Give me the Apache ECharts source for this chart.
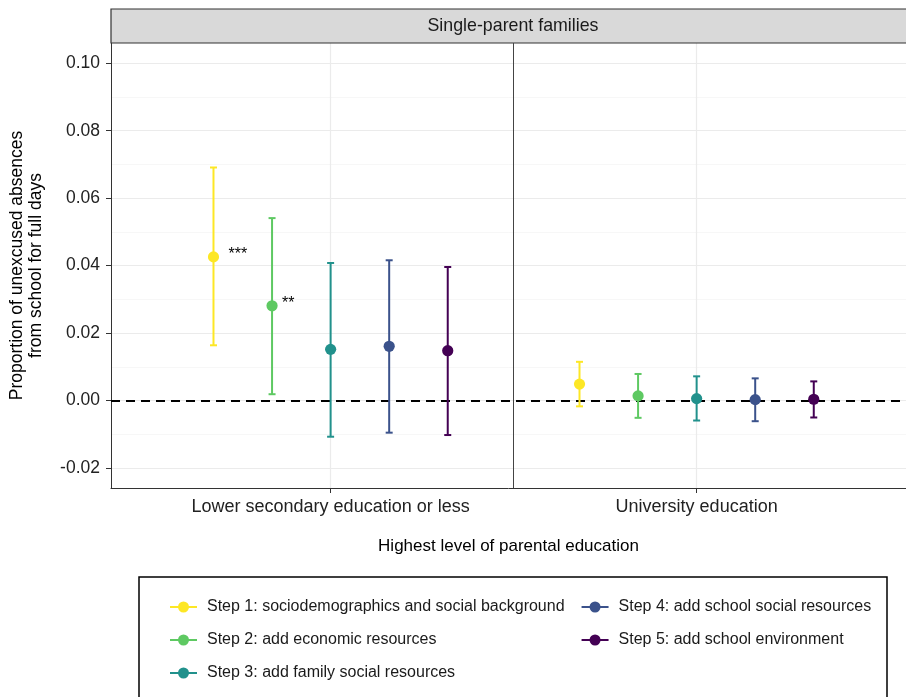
<!DOCTYPE html>
<html>
<head>
<meta charset="utf-8">
<script src="https://cdn.jsdelivr.net/npm/echarts@6/dist/echarts.min.js"></script>
<style>
html,body{margin:0;padding:0;background:#fff;}
#chart{width:906px;height:697px;}
</style>
</head>
<body>
<div id="chart"></div>
<script>
const categories = ['Lower secondary education or less', 'University education'];
const steps = [
  'Step 1: sociodemographics and social background',
  'Step 2: add economic resources',
  'Step 3: add family social resources',
  'Step 4: add school social resources',
  'Step 5: add school environment'
];
// per step: [lower secondary, university]
const estimates = [[0.0426, 0.0049], [0.0281, 0.0014], [0.0152, 0.0006], [0.0161, 0.0003], [0.0148, 0.0004]];
const lowerCI  = [[0.0164, -0.0017], [0.0019, -0.0051], [-0.0107, -0.0059], [-0.0095, -0.0061], [-0.0102, -0.0050]];
const upperCI  = [[0.0691, 0.0115], [0.0541, 0.0079], [0.0408, 0.0072], [0.0416, 0.0066], [0.0396, 0.0057]];
const stars    = [['***', ''], ['**', ''], ['', ''], ['', ''], ['', '']];
const yTicks = [-0.02, 0, 0.02, 0.04, 0.06, 0.08, 0.10];
const yMinorTicks = [-0.01, 0.01, 0.03, 0.05, 0.07, 0.09];
const xTicks = [1, 2];
const panelTitle = 'Single-parent families';
const xTitle = 'Highest level of parental education';
const yTitle = 'Proportion of unexcused absences\nfrom school for full days';

const colors = ['#FDE725', '#5EC962', '#21918C', '#3B528B', '#440154'];
const starOffsets = [15, 10, 12, 12, 12];
const FONT = 'Liberation Sans, Arial, Helvetica, sans-serif';
const dodge = 0.16;
const legendIcon = 'path://M0,4.5 L27,4.5 L27,6.5 L0,6.5 Z M19,5.5 A5.5,5.5 0 1 1 8,5.5 A5.5,5.5 0 1 1 19,5.5 Z';

const chart = echarts.init(document.getElementById('chart'), null, {renderer: 'canvas'});

const series = steps.map((name, i) => ({
  name: name,
  type: 'custom',
  color: colors[i],
  itemStyle: {color: colors[i]},
  clip: false,
  z: 10 + (4 - i),
  data: categories.map((c, j) => [j + 1 + (i - 2) * dodge, estimates[i][j], lowerCI[i][j], upperCI[i][j]]),
  encode: {x: 0, y: [1, 2, 3]},
  renderItem: function (params, api) {
    const x = api.value(0);
    const pE = api.coord([x, api.value(1)]);
    const pL = api.coord([x, api.value(2)]);
    const pH = api.coord([x, api.value(3)]);
    const color = colors[i];
    const cap = 3.5;
    const children = [
      {type: 'line', shape: {x1: pL[0], y1: pL[1], x2: pH[0], y2: pH[1]}, style: {stroke: color, lineWidth: 2}},
      {type: 'line', shape: {x1: pL[0] - cap, y1: pL[1], x2: pL[0] + cap, y2: pL[1]}, style: {stroke: color, lineWidth: 2}},
      {type: 'line', shape: {x1: pH[0] - cap, y1: pH[1], x2: pH[0] + cap, y2: pH[1]}, style: {stroke: color, lineWidth: 2}},
      {type: 'circle', shape: {cx: pE[0], cy: pE[1], r: 5.6}, style: {fill: color}}
    ];
    const s = stars[i][params.dataIndex];
    if (s) {
      children.push({type: 'text', x: pE[0] + starOffsets[i], y: pE[1] - 2,
        style: {text: s, fill: '#000', font: '16px ' + FONT, verticalAlign: 'middle', align: 'left'}});
    }
    return {type: 'group', children: children};
  }
}));

// reference lines
series.push({
  type: 'line', data: [], silent: true, z: 20,
  markLine: {
    symbol: 'none', silent: true, label: {show: false},
    data: [
      {yAxis: 0, lineStyle: {color: '#000', width: 2, type: [9, 6]}},
      {xAxis: 1.5, lineStyle: {color: '#444', width: 1, type: 'solid'}}
    ]
  }
});

const option = {
  animation: false,
  backgroundColor: '#fff',
  grid: {left: 111, top: 43, right: 0, height: 445, containLabel: false},
  xAxis: {
    type: 'value', min: 0.4, max: 2.572,
    axisLine: {show: true, onZero: false, lineStyle: {color: '#333', width: 1}},
    axisTick: {show: true, length: 5, customValues: xTicks, lineStyle: {color: '#333', width: 1}},
    axisLabel: {customValues: xTicks, formatter: v => categories[Math.round(v) - 1] || '',
      color: '#222', fontSize: 18, fontFamily: FONT, margin: 10},
    splitLine: {show: true, lineStyle: {color: '#ebebeb', width: 1.2}},
    name: xTitle, nameLocation: 'middle', nameGap: 50,
    nameTextStyle: {color: '#000', fontSize: 17, fontFamily: FONT}
  },
  yAxis: [{
    type: 'value', min: -0.0259, max: 0.106,
    axisLine: {show: true, onZero: false, lineStyle: {color: '#333', width: 1}},
    axisTick: {show: true, length: 5, customValues: yTicks, lineStyle: {color: '#333', width: 1}},
    axisLabel: {customValues: yTicks, formatter: v => v.toFixed(2),
      color: '#222', fontSize: 17.5, fontFamily: FONT, margin: 11},
    splitLine: {show: true, lineStyle: {color: '#ebebeb', width: 1.2}},
    name: yTitle, nameLocation: 'middle', nameRotate: 90, nameGap: 65,
    nameTextStyle: {color: '#000', fontSize: 17.5, fontFamily: FONT, lineHeight: 19}
  }, {
    type: 'value', min: -0.0259, max: 0.106, position: 'left',
    axisLine: {show: false}, axisLabel: {show: false, customValues: yMinorTicks},
    axisTick: {show: false, customValues: yMinorTicks},
    splitLine: {show: true, lineStyle: {color: '#f5f5f5', width: 0.8}}
  }],
  legend: {
    orient: 'vertical', left: 165, top: 594, height: 96,
    itemGap: 17, itemWidth: 27, itemHeight: 11,
    data: steps.map(s => ({name: s, icon: legendIcon})),
    textStyle: {color: '#1a1a1a', fontSize: 16, fontFamily: FONT, lineHeight: 14, padding: [0, 0, 0, 5]},
    selectedMode: false
  },
  graphic: [
    {type: 'rect', shape: {x: 111, y: 9, width: 820, height: 34}, style: {fill: '#d9d9d9', stroke: '#333', lineWidth: 1.2}, z: 5},
    {type: 'text', x: 513, y: 26, style: {text: panelTitle, fill: '#1a1a1a', font: '17.8px ' + FONT, align: 'center', verticalAlign: 'middle'}, z: 6},
    {type: 'rect', shape: {x: 139, y: 577, width: 748, height: 140}, style: {fill: 'none', stroke: '#000', lineWidth: 1.5}, z: 1}
  ],
  series: series
};
chart.setOption(option);
</script>
</body>
</html>
